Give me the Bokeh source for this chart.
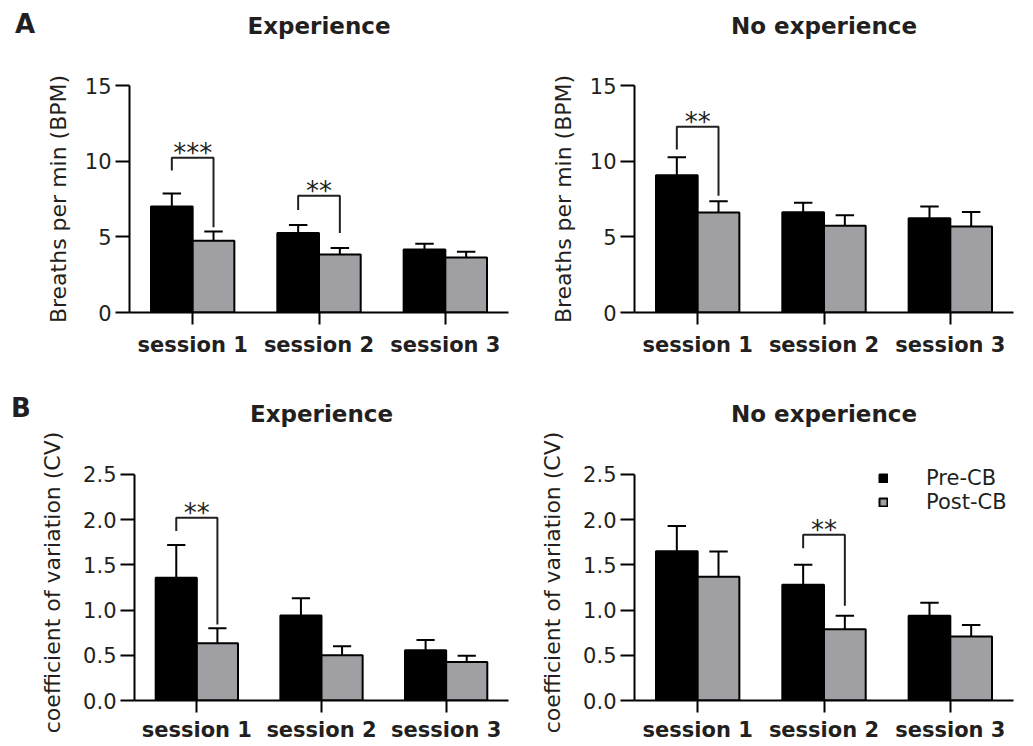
from bokeh.plotting import figure
from bokeh.models import (Range1d, FixedTicker, NumeralTickFormatter, Div, Title,
                          Legend, LegendItem, ColumnDataSource)
from bokeh.layouts import column, row
from bokeh.embed import file_html
from bokeh.resources import INLINE
from bokeh.core.properties import value

# ---------------- data ----------------
sessions = ["session 1", "session 2", "session 3"]
series_names = ["Pre-CB", "Post-CB"]

# A: Breaths per min, Experience
bpm_exp_pre = [7.0, 5.25, 4.17]
bpm_exp_pre_sem = [0.87, 0.53, 0.38]
bpm_exp_post = [4.74, 3.84, 3.64]
bpm_exp_post_sem = [0.62, 0.42, 0.38]
sig_bpm_exp_session = [0, 1]
sig_bpm_exp_top = [10.22, 7.72]
sig_bpm_exp_left = [9.38, 6.78]
sig_bpm_exp_right = [5.63, 5.25]
sig_bpm_exp_label = ["***", "**"]

# A: Breaths per min, No experience
bpm_noexp_pre = [9.07, 6.62, 6.22]
bpm_noexp_pre_sem = [1.19, 0.64, 0.78]
bpm_noexp_post = [6.60, 5.74, 5.69]
bpm_noexp_post_sem = [0.75, 0.68, 0.95]
sig_bpm_noexp_session = [0]
sig_bpm_noexp_top = [12.27]
sig_bpm_noexp_left = [10.77]
sig_bpm_noexp_right = [7.72]
sig_bpm_noexp_label = ["**"]

# B: coefficient of variation, Experience
cv_exp_pre = [1.357, 0.94, 0.555]
cv_exp_pre_sem = [0.363, 0.19, 0.115]
cv_exp_post = [0.632, 0.50, 0.427]
cv_exp_post_sem = [0.168, 0.10, 0.069]
sig_cv_exp_session = [0]
sig_cv_exp_top = [2.02]
sig_cv_exp_left = [1.875]
sig_cv_exp_right = [0.84]
sig_cv_exp_label = ["**"]

# B: coefficient of variation, No experience
cv_noexp_pre = [1.65, 1.28, 0.937]
cv_noexp_pre_sem = [0.28, 0.22, 0.143]
cv_noexp_post = [1.368, 0.787, 0.709]
cv_noexp_post_sem = [0.279, 0.15, 0.126]
sig_cv_noexp_session = [1]
sig_cv_noexp_top = [1.834]
sig_cv_noexp_left = [1.684]
sig_cv_noexp_right = [1.048]
sig_cv_noexp_label = ["**"]

bpm_ticks = [0, 5, 10, 15]
cv_ticks = [0.0, 0.5, 1.0, 1.5, 2.0, 2.5]

# ---------------- style ----------------
FONT = "DejaVu Sans"
TXT = "#231f20"
PRE_COLOR = "black"
POST_COLOR = "#a0a0a4"
BAR_W = 0.33
CAP_W = 0.146
FRAME_H = 227  # pixel height of the 0..max axis span


def make_panel(title, ylabel, yticks, fmt, pre, pre_sem, post, post_sem,
               sig_sess, sig_top, sig_left, sig_right, sig_label,
               width, height, mbl, mbr, mbt, mbb, x_standoff, title_gap,
               ylabel_standoff=11, pad_px=0, legend_loc=None):
    ymin, ymax = yticks[0], yticks[-1]
    pad = pad_px * (ymax - ymin) / FRAME_H
    p = figure(width=width, height=height,
               x_range=Range1d(0, len(sessions)),
               y_range=Range1d(ymin, ymax + pad),
               output_backend="svg", toolbar_location=None,
               min_border_left=mbl, min_border_right=mbr,
               min_border_top=mbt - pad_px, min_border_bottom=mbb)
    p.xgrid.visible = False
    p.ygrid.visible = False
    p.outline_line_color = None
    p.background_fill_color = None
    p.border_fill_color = None

    # spacer (nearest the frame), then the visible title above it
    p.add_layout(Title(text=" ", text_font_size="1px", standoff=title_gap - pad_px), "above")
    p.add_layout(Title(text=title, align="center", text_font=FONT,
                       text_font_style="bold", text_font_size="23px",
                       text_color=TXT, standoff=0), "above")

    centers = [i + 0.5 for i in range(len(sessions))]
    pre_x = [c - BAR_W / 2 for c in centers]
    post_x = [c + BAR_W / 2 for c in centers]

    src_pre = ColumnDataSource(dict(
        x=pre_x, top=pre, err=[m + s for m, s in zip(pre, pre_sem)],
        c0=[x - CAP_W / 2 for x in pre_x], c1=[x + CAP_W / 2 for x in pre_x]))
    src_post = ColumnDataSource(dict(
        x=post_x, top=post, err=[m + s for m, s in zip(post, post_sem)],
        c0=[x - CAP_W / 2 for x in post_x], c1=[x + CAP_W / 2 for x in post_x]))

    r_pre = p.vbar(x="x", top="top", bottom=0, width=BAR_W, source=src_pre,
                   fill_color=PRE_COLOR, line_color="black", line_width=2)
    r_post = p.vbar(x="x", top="top", bottom=0, width=BAR_W, source=src_post,
                    fill_color=POST_COLOR, line_color="black", line_width=2)
    for src in (src_pre, src_post):
        p.segment(x0="x", y0="top", x1="x", y1="err", source=src,
                  line_color="black", line_width=2)
        p.segment(x0="c0", y0="err", x1="c1", y1="err", source=src,
                  line_color="black", line_width=2)

    # significance brackets
    xs, ys, tx, ty = [], [], [], []
    for s, t, l, r in zip(sig_sess, sig_top, sig_left, sig_right):
        xl = pre_x[s]
        xr = post_x[s]
        xs.append([xl, xl, xr, xr])
        ys.append([l, t, t, r])
        tx.append(centers[s])
        ty.append(t)
    p.multi_line(xs=xs, ys=ys, line_color=TXT, line_width=2)
    p.text(x=tx, y=ty, text=sig_label, text_align="center",
           text_baseline="alphabetic", y_offset=-5,
           text_font=value(FONT), text_font_size="26px", text_color=TXT)

    # axes
    xa = p.xaxis[0]
    xa.ticker = FixedTicker(ticks=centers)
    xa.major_label_overrides = {c: s for c, s in zip(centers, sessions)}
    xa.major_tick_out = 12
    xa.major_tick_in = 0
    xa.minor_tick_out = 0
    xa.minor_tick_in = 0
    xa.axis_line_width = 2
    xa.major_tick_line_width = 2
    xa.axis_line_color = "black"
    xa.major_tick_line_color = "black"
    xa.major_label_standoff = x_standoff
    xa.major_label_text_font = FONT
    xa.major_label_text_font_style = "bold"
    xa.major_label_text_font_size = "21px"
    xa.major_label_text_color = TXT

    ya = p.yaxis[0]
    ya.bounds = (ymin, ymax)
    ya.ticker = FixedTicker(ticks=yticks)
    if fmt:
        ya.formatter = NumeralTickFormatter(format=fmt)
    ya.major_tick_out = 14
    ya.major_tick_in = 0
    ya.minor_tick_out = 0
    ya.minor_tick_in = 0
    ya.axis_line_width = 2
    ya.major_tick_line_width = 2
    ya.axis_line_color = "black"
    ya.major_tick_line_color = "black"
    ya.major_label_standoff = 4
    ya.major_label_text_font = FONT
    ya.major_label_text_font_size = "21px"
    ya.major_label_text_color = TXT
    ya.axis_label = ylabel
    ya.axis_label_standoff = ylabel_standoff
    ya.axis_label_text_font = FONT
    ya.axis_label_text_font_style = "normal"
    ya.axis_label_text_font_size = "22px"
    ya.axis_label_text_color = TXT

    if legend_loc is not None:
        leg = Legend(items=[LegendItem(label=series_names[0], renderers=[r_pre]),
                            LegendItem(label=series_names[1], renderers=[r_post])],
                     location=legend_loc, glyph_width=10, glyph_height=10,
                     label_standoff=38, spacing=0, padding=0, margin=0,
                     border_line_color=None, background_fill_alpha=0,
                     label_text_font=FONT, label_text_font_size="21px",
                     label_text_color=TXT)
        p.add_layout(leg)
    return p


def letter_div(letter, width, height, pad_top, pad_left):
    return Div(text=('<div style="font-family:\'DejaVu Sans\';font-weight:bold;'
                     'font-size:26px;color:%s;padding-top:%dpx;padding-left:%dpx;'
                     'line-height:normal;">%s</div>') % (TXT, pad_top, pad_left, letter),
               width=width, height=height, margin=0)


DIV_W = 37
TOP_H = 370
BOT_H = 374
BOT_PAD = 10

p1 = make_panel("Experience", "Breaths per min (BPM)", bpm_ticks, None,
                bpm_exp_pre, bpm_exp_pre_sem, bpm_exp_post, bpm_exp_post_sem,
                sig_bpm_exp_session, sig_bpm_exp_top, sig_bpm_exp_left,
                sig_bpm_exp_right, sig_bpm_exp_label,
                515 - DIV_W, TOP_H, 129 - DIV_W, 7, 85, 58, 8, 44)
p2 = make_panel("No experience", "Breaths per min (BPM)", bpm_ticks, None,
                bpm_noexp_pre, bpm_noexp_pre_sem, bpm_noexp_post, bpm_noexp_post_sem,
                sig_bpm_noexp_session, sig_bpm_noexp_top, sig_bpm_noexp_left,
                sig_bpm_noexp_right, sig_bpm_noexp_label,
                515, TOP_H, 119, 17, 85, 58, 8, 44)
p3 = make_panel("Experience", "coefficient of variation (CV)", cv_ticks, "0.0",
                cv_exp_pre, cv_exp_pre_sem, cv_exp_post, cv_exp_post_sem,
                sig_cv_exp_session, sig_cv_exp_top, sig_cv_exp_left,
                sig_cv_exp_right, sig_cv_exp_label,
                515 - DIV_W, BOT_H, 129 - DIV_W, 7, 104, 43, 5, 45,
                ylabel_standoff=15, pad_px=BOT_PAD)
p4 = make_panel("No experience", "coefficient of variation (CV)", cv_ticks, "0.0",
                cv_noexp_pre, cv_noexp_pre_sem, cv_noexp_post, cv_noexp_post_sem,
                sig_cv_noexp_session, sig_cv_noexp_top, sig_cv_noexp_left,
                sig_cv_noexp_right, sig_cv_noexp_label,
                515, BOT_H, 119, 17, 104, 43, 5, 45,
                ylabel_standoff=15, pad_px=BOT_PAD, legend_loc=(244, 186))

dA = letter_div("A", DIV_W, TOP_H, 9, 15)
dB = letter_div("B", DIV_W, BOT_H, 23, 11)

layout = column(row(dA, p1, p2), row(dB, p3, p4))
open("out.html", "w").write(file_html(layout, INLINE))
